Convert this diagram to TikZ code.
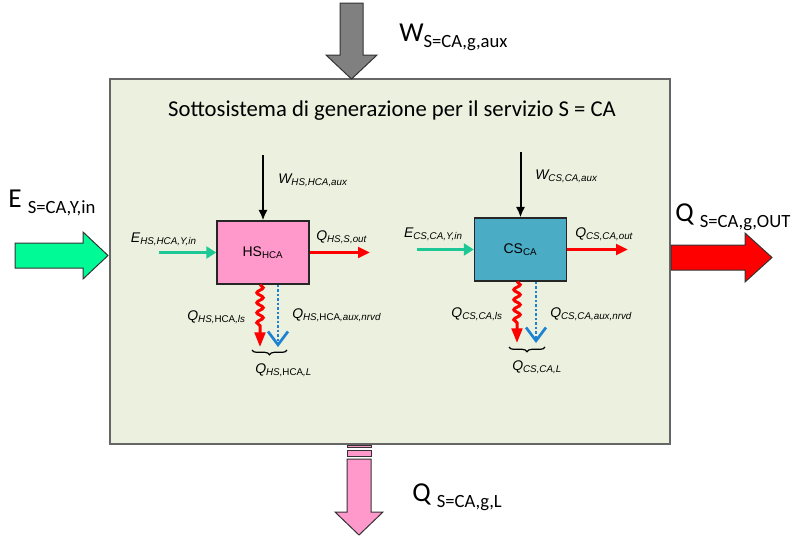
\documentclass[tikz,border=0pt]{standalone}
\usepackage{fontspec}
\setmainfont{Carlito}
\newfontfamily\arialfont{Liberation Sans}
\usepackage{tikz}
\usetikzlibrary{arrows.meta,positioning,decorations.pathmorphing,decorations.pathreplacing}

\definecolor{panelfill}{RGB}{235,241,222}
\definecolor{hspink}{RGB}{255,153,204}
\definecolor{csteal}{RGB}{75,172,198}
\definecolor{inmint}{RGB}{0,250,150}
\definecolor{flowgreen}{RGB}{30,200,150}
\definecolor{auxgray}{RGB}{128,128,128}
\definecolor{nrvdblue}{RGB}{30,130,210}

% big label: main letter and lowered subscript
\newcommand{\biglbl}[2]{{\fontsize{20.5}{21}\selectfont #1}\raisebox{-4.5pt}{\fontsize{14}{15}\selectfont #2}}

\begin{document}
\begin{tikzpicture}[x=0.75pt,y=-0.75pt,
  bigarrow/.style={draw=black!80,line width=0.75pt},
  subbox/.style={draw=black!85,line width=1.1pt,minimum width=69pt,minimum height=47pt,inner sep=0pt,
    font=\fontsize{10.5}{12}\arialfont},
  lbl/.style={font=\fontsize{10.5}{12}\arialfont\itshape,inner sep=0pt,anchor=base west},
  big/.style={inner sep=0pt,anchor=base west},
  auxarr/.style={-{Latex[length=8pt,width=7pt]},line width=1.5pt},
  inarr/.style={-{Triangle[length=7.5pt,width=9pt]},line width=2.5pt,flowgreen},
  outarr/.style={-{Triangle[length=9pt,width=8pt]},line width=2.25pt,red},
  lossarr/.style={-{Triangle[length=11pt,width=8pt]},line width=2.25pt,red,decorate,
    decoration={snake,amplitude=2.4pt,segment length=7.5pt,post length=14pt}},
  nrvdarr/.style={-{Straight Barb[length=10pt,width=15pt,line width=2pt]},line width=2pt,
    dash pattern=on 1.8pt off 1.6pt,nrvdblue},
  sumbrace/.style={decorate,decoration={brace,mirror,amplitude=3.5pt},line width=0.9pt}]
\useasboundingbox (0,0) rectangle (797,536);

% generation subsystem
\draw[draw=black!60,line width=1.2pt,fill=panelfill] (110,79) rectangle (670,444);
\node[font=\fontsize{17}{20}\selectfont] (title) at (392,111) {Sottosistema di generazione per il servizio S = CA};

% system boundary flows
\draw[bigarrow,fill=auxgray] (340,3) -- (363,3) -- (363,55) -- (377,55) -- (351.5,79) -- (326,55) -- (340,55) -- cycle;
\node[big] (waux) at (399,41) {\biglbl{W}{S=CA,g,aux}};
\draw[bigarrow,fill=inmint] (15,243) -- (83,243) -- (83,232) -- (108,255.5) -- (83,279) -- (83,268) -- (15,268) -- cycle;
\node[big] (ein) at (8,207) {\biglbl{E\ }{S=CA,Y,in}};
\draw[bigarrow,fill=red] (671,245) -- (745,245) -- (745,233) -- (772,257.5) -- (745,282) -- (745,270) -- (671,270) -- cycle;
\node[big] (qout) at (675,221) {\biglbl{Q\ }{S=CA,g,OUT}};
\draw[bigarrow,fill=hspink] (347,445) rectangle (371,447.5);
\draw[bigarrow,fill=hspink] (347,450) rectangle (371,456);
\draw[bigarrow,fill=hspink] (347,459) -- (371,459) -- (371,512) -- (383,512) -- (359,535) -- (335,512) -- (347,512) -- cycle;
\node[big] (qloss) at (412,501) {\biglbl{Q\ }{S=CA,g,L}};

% heat generator HS
\node[subbox,fill=hspink] (hs) at (263,252.5) {HS\textsubscript{HCA}};
\coordinate (hsaux) at (263,155);
\coordinate (hsin) at (159,252.5);
\coordinate (hsout) at (370,252.5);
\coordinate (hsls) at (260,347);
\coordinate (hsnrvd) at (278,347);
\draw[auxarr] (hsaux) -- (hs);
\draw[inarr] (hsin) -- (hs);
\draw[outarr] (hs) -- (hsout);
\draw[lossarr] (hsls |- hs.south) -- (hsls);
\draw[nrvdarr] (hsnrvd |- hs.south) -- (hsnrvd);
\draw[sumbrace] (252,350) -- (287,350);
\node[lbl] (hswl) at (278,183) {W\textsubscript{HS,HCA,aux}};
\node[lbl,anchor=base east] (hsel) at (197,242) {E\textsubscript{HS,HCA,Y,in}};
\node[lbl] (hsol) at (316,240) {Q\textsubscript{HS,S,out}};
\node[lbl,anchor=base east] (hsll) at (246,320) {Q\textsubscript{HS,\textup{HCA},ls}};
\node[lbl] (hsnl) at (292,318) {Q\textsubscript{HS,\textup{HCA},aux,nrvd}};
\node[lbl] (hsLl) at (255,373) {Q\textsubscript{HS,\textup{HCA},L}};

% cold generator CS
\node[subbox,fill=csteal] (cs) at (520.5,249.5) {CS\textsubscript{CA}};
\coordinate (csaux) at (520.5,152);
\coordinate (csin) at (417,249.5);
\coordinate (csout) at (628,249.5);
\coordinate (csls) at (517,343);
\coordinate (csnrvd) at (536,343);
\draw[auxarr] (csaux) -- (cs);
\draw[inarr] (csin) -- (cs);
\draw[outarr] (cs) -- (csout);
\draw[lossarr] (csls |- cs.south) -- (csls);
\draw[nrvdarr] (csnrvd |- cs.south) -- (csnrvd);
\draw[sumbrace] (509,347) -- (545,347);
\node[lbl] (cswl) at (535,179) {W\textsubscript{CS,CA,aux}};
\node[lbl,anchor=base east] (csel) at (463,237) {E\textsubscript{CS,CA,Y,in}};
\node[lbl] (csol) at (575,237) {Q\textsubscript{CS,CA,out}};
\node[lbl,anchor=base east] (csll) at (503,317) {Q\textsubscript{CS,CA,ls}};
\node[lbl] (csnl) at (550,317) {Q\textsubscript{CS,CA,aux,nrvd}};
\node[lbl] (csLl) at (512,370) {Q\textsubscript{CS,CA,L}};
\end{tikzpicture}
\end{document}
